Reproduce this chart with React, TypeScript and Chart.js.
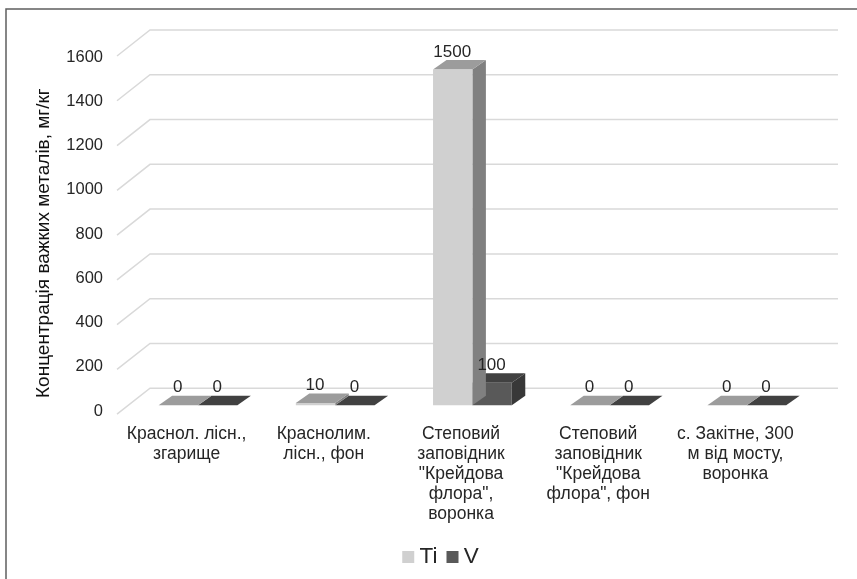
import React, { useEffect, useRef } from "react";
import { Chart, registerables } from "chart.js";

Chart.register(...registerables);

const categories: string[][] = [
  ["Краснол. лісн.,", "згарище"],
  ["Краснолим.", "лісн., фон"],
  ["Степовий", "заповідник", "\"Крейдова", "флора\",", "воронка"],
  ["Степовий", "заповідник", "\"Крейдова", "флора\", фон"],
  ["с. Закітне, 300", "м від мосту,", "воронка"],
];
const tiValues = [0, 10, 1500, 0, 0];
const vValues = [0, 0, 100, 0, 0];
const yTitle = "Концентрація важких металів, мг/кг";

const FONT = "'Liberation Sans', Arial, sans-serif";
const TEXT = "#262626";
const GRID = "#d9d9d9";
const faces = [
  { front: "#d0d0d0", top: "#9c9c9c", side: "#808080" },
  { front: "#595959", top: "#414141", side: "#383838" },
];
// oblique projection: wall depth and bar depth / offset
const WALL = { dx: 33, dy: -26 };
const BAR_SHIFT = { dx: 11.4, dy: -9 };
const BAR_DEPTH = { dx: 13.5, dy: -9.5 };
const LEGEND_SHIFT = 27;

const poly = (ctx: CanvasRenderingContext2D, pts: number[][], fill: string) => {
  ctx.beginPath();
  pts.forEach(([x, y], i) => (i ? ctx.lineTo(x, y) : ctx.moveTo(x, y)));
  ctx.closePath();
  ctx.fillStyle = fill;
  ctx.fill();
};

const frame3d = {
  id: "frame3d",
  afterLayout(chart: any) {
    if (chart.legend) {
      chart.legend.left += LEGEND_SHIFT;
      chart.legend.right += LEGEND_SHIFT;
    }
  },
  beforeDraw(chart: any) {
    const { ctx } = chart;
    ctx.save();
    ctx.strokeStyle = "#5f5f5f";
    ctx.lineWidth = 1.5;
    ctx.beginPath();
    ctx.moveTo(857, 9);
    ctx.lineTo(6, 9);
    ctx.lineTo(6, 579);
    ctx.stroke();
    ctx.restore();
  },
  beforeDatasetsDraw(chart: any) {
    const { ctx, chartArea, scales } = chart;
    ctx.save();
    ctx.strokeStyle = GRID;
    ctx.lineWidth = 1.5;
    scales.y.ticks.forEach((t: any) => {
      const y = scales.y.getPixelForValue(t.value);
      ctx.beginPath();
      ctx.moveTo(chartArea.left - 1, y);
      ctx.lineTo(chartArea.left + WALL.dx - 1, y + WALL.dy);
      ctx.lineTo(chartArea.right + WALL.dx + 1, y + WALL.dy);
      ctx.stroke();
    });
    ctx.restore();
  },
  beforeDatasetDraw(chart: any, args: any) {
    const { ctx } = chart;
    ctx.save();
    ctx.translate(BAR_SHIFT.dx, BAR_SHIFT.dy);
    const c = faces[args.index];
    args.meta.data.forEach((el: any) => {
      const l = el.x - el.width / 2;
      const r = el.x + el.width / 2;
      const { dx, dy } = BAR_DEPTH;
      poly(ctx, [[r, el.y], [r + dx, el.y + dy], [r + dx, el.base + dy], [r, el.base]], c.side);
      poly(ctx, [[l, el.y], [l + dx, el.y + dy], [r + dx, el.y + dy], [r, el.y]], c.top);
    });
  },
  afterDatasetDraw(chart: any) {
    chart.ctx.restore();
  },
  afterDatasetsDraw(chart: any) {
    const { ctx } = chart;
    ctx.save();
    ctx.font = `17px ${FONT}`;
    ctx.fillStyle = TEXT;
    ctx.textAlign = "center";
    ctx.textBaseline = "middle";
    chart.data.datasets.forEach((ds: any, i: number) => {
      chart.getDatasetMeta(i).data.forEach((el: any, j: number) => {
        ctx.fillText(String(ds.data[j]), el.x + BAR_SHIFT.dx - 0.5, el.y + BAR_SHIFT.dy - 17.5);
      });
    });
    ctx.restore();
  },
};

const shiftDraw = (scale: any, method: string, dy: number, sy = 1) => {
  if (scale.__wrapped?.[method]) return;
  scale.__wrapped = { ...(scale.__wrapped || {}), [method]: true };
  const orig = scale[method].bind(scale);
  scale[method] = (...a: any[]) => {
    scale.ctx.save();
    scale.ctx.translate(0, dy);
    scale.ctx.scale(1, sy);
    orig(...a);
    scale.ctx.restore();
  };
};

export default function App() {
  const ref = useRef<HTMLCanvasElement>(null);
  useEffect(() => {
    document.body.style.margin = "0";
    const chart = new Chart(ref.current!, {
      type: "bar",
      data: {
        labels: categories as any,
        datasets: [
          { label: "Ti", data: tiValues, backgroundColor: faces[0].front, borderWidth: 0, clip: false } as any,
          { label: "V", data: vValues, backgroundColor: faces[1].front, borderWidth: 0, clip: false } as any,
        ],
      },
      plugins: [frame3d],
      options: {
        animation: false,
        responsive: false,
        layout: { padding: { left: 29, top: 56, right: 53, bottom: 0.65 } },
        datasets: { bar: { categoryPercentage: 0.574, barPercentage: 1 } },
        plugins: {
          tooltip: { enabled: false },
          legend: {
            position: "bottom",
            labels: {
              usePointStyle: true,
              pointStyle: "rect",
              boxWidth: 0.1,
              boxHeight: 12,
              padding: 15,
              color: TEXT,
              font: { family: FONT, size: 22.5 },
            },
          },
        },
        scales: {
          x: {
            grid: { display: false, drawTicks: false },
            border: { display: false },
            ticks: {
              color: TEXT,
              maxRotation: 0,
              autoSkip: false,
              padding: 10,
              font: { family: FONT, size: 17.5, lineHeight: "20px" },
            },
            afterFit: (s: any) => {
              s.height = 579 + 1.75 - 49.5 - 414 - 0.6;
            },
          },
          y: {
            min: 0,
            max: 1600,
            grid: { display: false, drawTicks: false },
            border: { display: false },
            ticks: {
              stepSize: 200,
              color: TEXT,
              padding: 15,
              font: { family: FONT, size: 16.5 },
              callback: (v: any) => String(v),
            },
            title: {
              display: true,
              text: yTitle,
              color: "#111111",
              padding: { top: 3, bottom: 0 },
              font: { family: FONT, size: 19 },
            },
            afterFit: (s: any) => {
              s.width = 89;
              shiftDraw(s, "drawTitle", 8);
              shiftDraw(s, "drawLabels", 1.63, 354 / 358);
            },
          },
        },
      } as any,
    });
    return () => chart.destroy();
  }, []);
  return <canvas ref={ref} width={857} height={579} style={{ display: "block", width: 857, height: 579 }} />;
}
